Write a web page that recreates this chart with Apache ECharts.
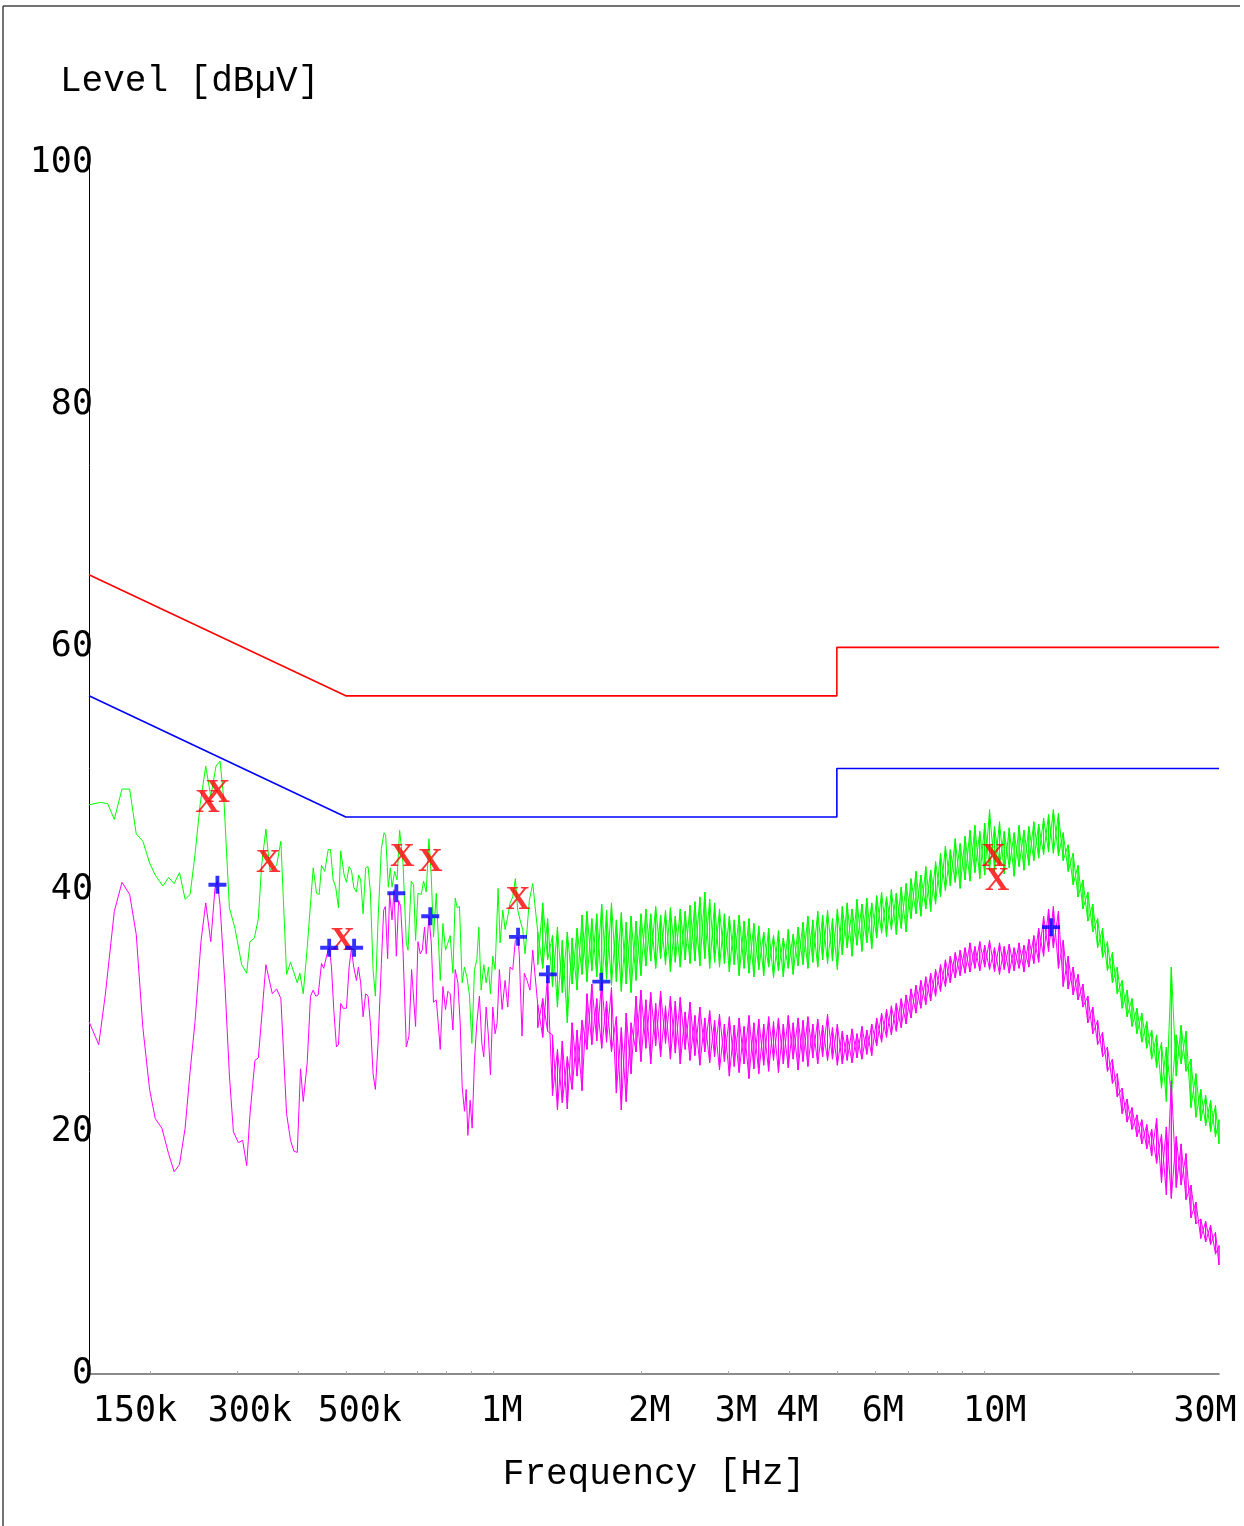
<!DOCTYPE html>
<html>
<head>
<meta charset="utf-8">
<script src="https://cdn.jsdelivr.net/npm/echarts@6/dist/echarts.min.js"></script>
<style>
html,body{margin:0;padding:0;background:#fff;}
#chart{width:1244px;height:1526px;}
</style>
</head>
<body>
<div id="chart"></div>
<script>
// ---- limit lines (frequency in MHz, level in dBµV) ----
const qpLimit = [[0.15,66],[0.5,56],[5,56],[5,60],[30,60]];
const avLimit = [[0.15,56],[0.5,46],[5,46],[5,50],[30,50]];

// ---- low-frequency part of the traces (read vertex by vertex) ----
const greenLF = [[0.150,47.0],[0.1581,47.2],[0.1637,47.1],[0.1689,45.8],[0.1751,48.3],[0.1815,48.3],[0.1872,44.6],[0.1931,44.0],[0.1993,42.2],[0.2046,41.2],[0.2121,40.3],[0.2178,41.0],[0.2236,40.5],[0.2293,41.4],[0.2354,39.2],[0.2410,39.6],[0.2466,42.9],[0.2525,47.0],[0.2593,50.2],[0.2655,47.7],[0.2721,50.2],[0.2773,50.6],[0.2825,47.3],[0.2897,38.5],[0.2974,36.8],[0.3069,33.8],[0.3142,33.1],[0.3190,35.7],[0.3257,36.0],[0.3318,37.6],[0.3370,42.0],[0.3438,45.0],[0.3503,41.6],[0.3615,42.0],[0.3688,44.0],[0.3788,33.0],[0.3859,34.0],[0.3983,32.3],[0.4031,33.1],[0.4096,31.4],[0.4173,35.2],[0.4292,41.8],[0.4359,39.7],
[0.4414,39.6],[0.4462,42.0],[0.4531,41.5],[0.4604,43.3],[0.4654,43.3],[0.4713,40.8],[0.4770,40.2],[0.4831,38.5],[0.4883,43.2],[0.4962,41.2],[0.5016,40.6],[0.5079,41.9],[0.5134,41.6],[0.5190,40.2],[0.5256,39.8],[0.5312,41.2],[0.5362,40.8],[0.5423,38.0],[0.5489,41.8],[0.5551,41.9],[0.5611,39.8],[0.5683,33.4],[0.5744,31.2],[0.5817,37.5],[0.5908,43.4],[0.5983,44.7],[0.6028,44.5],[0.6104,40.2],[0.6162,41.8],[0.6211,40.2],[0.6287,41.5],[0.6358,40.8],[0.6436,44.9],[0.6539,42.2],[0.6641,35.6],[0.6694,35.0],[0.6798,40.7],[0.6871,40.4],[0.6936,35.8],[0.7014,39.7],[0.7124,39.6],[0.7200,40.7],[0.7292,39.8],[0.7385,44.2],[0.7465,41.1],[0.7545,36.1],[0.7642,39.7],[0.7713,39.6],[0.7786,32.5],[0.7885,37.2],[0.7981,35.0],[0.8071,35.6],[0.8158,36.2],[0.8263,33.1],[0.8352,39.3],[0.8430,38.5],[0.8521,38.6],[0.8630,32.3],[0.8723,33.6],[0.8822,32.8],[0.8929,31.3],[0.9031,27.3],[0.9141,33.4],[0.9244,34.2],[0.9331,36.9],[0.9432,31.7],[0.9551,33.8],[0.9656,32.3],[0.9760,33.6],[0.9851,31.4],[0.9963,34.5],[1.0070,33.4],[1.0213,40.1],[1.0309,35.6],[1.0440,38.3],[1.0553,36.7],[1.0667,37.6],[1.0802,38.9],[1.0940,39.4],[1.1073,40.9],[1.1198,38.3],[1.1320,37.5],[1.1464,36.7],[1.1588,34.7],[1.1697,36.7],[1.1823,39.1],[1.2013,40.5]];

const magentaLF = [[0.150,29.1],[0.1570,27.2],[0.1619,31.3],[0.1689,38.2],[0.1751,40.6],[0.1815,39.6],[0.1872,36.3],[0.1931,28.6],[0.1993,23.5],[0.2046,21.1],[0.2111,20.3],[0.2178,18.2],[0.2236,16.7],[0.2293,17.3],[0.2354,20.3],[0.2410,25.0],[0.2466,29.1],[0.2537,35.8],[0.2593,38.9],[0.2655,35.7],[0.2708,40.1],[0.2739,40.7],[0.2773,38.7],[0.2838,32.1],[0.2897,24.7],[0.2952,20.0],[0.3022,19.1],[0.3083,19.3],[0.3142,17.2],[0.3190,21.4],[0.3266,25.9],[0.3318,26.1],[0.3370,29.4],[0.3438,33.8],[0.3543,31.4],[0.3615,31.8],[0.3688,31.0],[0.3788,21.5],[0.3859,19.3],[0.3920,18.4],[0.3983,18.3],[0.4044,25.2],[0.4096,22.5],[0.4173,25.7],[0.4238,31.2],[0.4292,31.7],[0.4344,31.2],[0.4393,31.3],[0.4462,33.9],[0.4510,33.5],[0.4568,34.5],[0.4626,35.3],[0.4676,33.6],[0.4726,30.1],[0.4786,27.0],[0.4831,27.2],[0.4883,30.6],[0.4939,30.2],[0.5016,30.2],[0.5079,33.6],[0.5134,35.1],[0.5190,33.6],[0.5256,32.5],[0.5305,33.6],[0.5362,32.3],[0.5423,29.5],[0.5489,31.4],[0.5551,31.2],[0.5619,28.7],[0.5683,24.8],[0.5744,23.5],[0.5817,27.3],[0.5908,33.9],[0.5972,38.3],[0.6019,38.6],[0.6084,34.3],[0.6142,39.7],[0.6211,37.5],[0.6269,40.0],[0.6338,34.5],[0.6406,39.1],[0.6466,38.6],[0.6539,35.0],[0.6641,27.0],[0.6725,27.9],[0.6808,33.4],[0.6871,33.4],[0.6936,28.7],[0.7014,35.7],[0.7090,34.7],[0.7157,35.0],[0.7234,36.9],[0.7292,34.7],[0.7385,37.8],[0.7465,35.6],[0.7545,30.7],[0.7642,30.9],[0.7713,29.0],[0.7786,26.8],[0.7885,32.0],[0.7981,30.1],[0.8071,31.6],[0.8158,31.4],[0.8263,28.4],[0.8352,33.4],[0.8458,32.3],[0.8549,29.0],[0.8630,23.7],[0.8723,21.7],[0.8793,23.5],[0.8863,19.7],[0.8959,22.6],[0.9043,20.3],[0.9141,25.9],[0.9244,29.0],[0.9357,31.2],[0.9463,27.3],[0.9551,26.2],[0.9656,30.3],[0.9760,27.9],[0.9851,24.7],[0.9963,30.3],[1.0070,28.1],[1.0165,29.0],[1.0275,33.4],[1.0406,30.1],[1.0553,32.5],[1.0686,30.3],[1.0802,33.6],[1.0940,33.4],[1.1073,35.8],[1.1214,36.1],[1.1283,34.5],[1.1426,27.9],[1.1549,33.1],[1.1697,32.5],[1.1862,31.7],[1.2013,35.0]];

// ---- dense high-frequency part: per frequency, top and bottom of the noisy band ----
const hfFreq = [1.230,1.259,1.288,1.318,1.349,1.380,1.413,1.445,1.479,1.514,1.549,1.585,1.622,1.660,1.698,1.738,1.778,1.820,1.862,1.905,1.950,1.995,2.042,2.089,2.138,2.188,2.239,2.291,2.344,2.399,2.455,2.512,2.570,2.630,2.692,2.754,2.818,2.884,2.951,3.020,3.090,3.162,3.236,3.311,3.388,3.467,3.548,3.631,3.715,3.802,3.890,3.981,4.074,4.169,4.266,4.365,4.467,4.571,4.677,4.786,4.898,5.012,5.129,5.248,5.370,5.495,5.623,5.754,5.888,6.026,6.166,6.310,6.457,6.607,6.761,6.918,7.079,7.244,7.413,7.586,7.762,7.943,8.128,8.318,8.511,8.710,8.913,9.120,9.333,9.550,9.772,10.00,10.23,10.47,10.72,10.96,11.22,11.48,11.75,12.02,12.30,12.59,12.88,13.18,13.49,13.80,14.13,14.45,14.79,15.14,15.49,15.85,16.22,16.60,16.98,17.38,17.78,18.20,18.62,19.05,19.50,19.95,20.42,20.89,21.38,21.88,22.39,22.91,23.44,23.99,24.55,25.12,25.70,26.30,26.92,27.54,28.18,28.84,29.51,30.0];

const greenHi = [36.5,38.9,37.6,36.2,36.9,35.8,36.5,36.0,36.8, 37.9,38.2,37.6,38.0, 38.8,38.3,38.9, 37.5,38.1,37.3,37.8,37.4,38.0, 38.4,38.0,38.6,37.9,38.3,38.5,37.8,38.4,38.2,38.7, 39.0,39.4,39.8,39.2,38.9, 38.4,38.0,37.8,37.5,37.9,37.4,37.6,37.2, 37.0,36.5,36.8,36.2,36.6,36.0,36.7,36.3,36.9, 37.3,37.8,37.5,38.2,37.9,38.3,37.6,38.4, 38.6,38.9,38.4,39.2,38.8,39.3,38.9, 39.5,39.8,39.4,40.0,39.7,40.2,40.5, 40.9,41.5,41.2,41.9,41.6,42.3, 43.0,43.6,43.3,44.2,43.8,44.4, 44.9,45.3,44.8,45.5,46.6, 45.2,45.6,44.8,45.1,44.7,45.3,44.9, 45.2,45.6,45.4,45.9,46.2,46.6,46.3, 44.7,43.7,43.0,42.0,40.8,39.8,38.8,37.6,36.8,35.7,34.8,33.6,32.5,31.7,31.0,30.2,29.8,29.1,28.4, 28.0,27.4,27.0,33.6,28.0,28.8,28.3,26.0,24.8,23.5,23.0,22.6,22.2,21.0];
const greenLo = [33.8,33.5,34.2,32.0,30.3,31.5,29.0,32.2,31.7, 33.0,32.4,33.3,32.8, 31.9,32.6,32.1, 32.4,31.6,32.2,31.5,32.5,32.9, 33.7,34.1,33.5,34.3,33.8,33.2,34.0,33.6,34.2,33.9, 34.1,33.7,34.3,33.5,34.0, 33.6,33.9,33.2,33.8,32.9,33.5,33.1,32.8, 33.4,32.9,33.6,32.7,33.3,32.8,33.5,33.0,33.7, 33.8,33.5,34.0,33.6,34.2,33.9,34.1,33.4, 34.6,35.2,34.5,35.4,34.9,35.6,35.1, 36.0,36.4,36.1,36.7,36.3,36.8,36.5, 37.6,38.0,37.8,38.4,38.2,38.8, 39.4,39.9,40.3,40.6,40.1,40.8, 40.7,41.4,40.9,41.2,41.6, 41.5,42.0,41.3,41.8,41.1,41.9,41.6, 42.0,42.4,42.6,42.9,43.1,43.0,42.8, 42.4,41.5,40.4,39.4,38.4,37.4,36.5,35.2,34.4,33.3,32.3,31.4,30.2,29.5,28.7,28.1,27.4,26.9,26.0, 25.3,23.6,22.5,22.9,24.6,25.6,25.0,22.0,21.2,20.9,20.5,20.0,19.6,19.0];
const magentaHi = [30.5,31.0,32.9,28.0,26.8,27.5,26.2,29.0,28.4, 29.2,31.4,32.2,31.0, 32.4,30.8,31.9, 29.5,28.6,29.8,29.0,31.2,31.7, 30.9,31.5,30.6,31.6,30.4,31.2,30.8,31.1,29.9,30.7, 29.6,30.3,29.4,30.0,29.2, 29.7,28.9,29.5,28.8,29.4,28.7,29.6,29.0, 29.3,28.9,29.5,29.1,29.4,28.9,29.6,29.0,29.4, 29.2,29.5,28.9,29.3,28.8,29.7,28.6,28.9, 28.3,28.0,28.5,28.1,28.7,28.4,28.9, 29.4,29.8,30.1,30.4,30.6,31.0,31.3, 31.8,32.1,32.5,32.8,33.1,33.4, 33.8,34.2,34.5,34.8,35.0,35.2, 35.6,35.3,35.7,35.4,35.8, 35.2,35.6,35.3,35.5,35.2,35.6,35.4, 35.9,36.2,36.8,37.8,38.4,38.6,38.2, 35.8,34.5,33.6,33.0,32.2,31.2,30.3,29.2,28.2,27.0,26.0,24.8,23.6,22.7,22.0,21.4,21.0,20.6,20.2, 21.1,19.8,20.4,24.2,19.6,19.0,18.2,15.6,14.2,12.8,12.6,12.3,11.7,10.6];
const magentaLo = [28.6,27.8,28.3,23.0,21.8,22.4,21.9,23.5,24.6, 23.4,26.8,27.2,27.5, 26.9,27.4,26.6, 23.2,21.8,22.5,24.8,26.6,25.8, 26.9,25.6,27.1,26.2,27.3,26.0,26.5,25.6,26.8,25.9, 26.3,25.5,26.6,25.7,26.2, 25.1,25.8,24.6,25.4,24.9,25.6,24.4,25.2, 24.8,25.5,25.0,25.9,24.9,25.6,25.3,26.0,25.1, 25.8,25.4,26.1,25.6,26.2,25.9,26.0,25.5, 25.6,25.9,25.7,26.1,26.0,26.4,26.3, 27.1,27.4,27.8,28.0,28.3,28.6,28.9, 29.4,29.8,30.2,30.5,30.8,31.2, 31.6,32.0,32.3,32.7,32.9,33.1, 33.2,33.5,33.3,33.6,33.4, 33.2,33.0,33.4,33.1,33.3,33.5,33.2, 33.6,33.9,34.0,34.5,34.9,35.2,33.5, 32.0,31.8,31.3,30.9,30.3,29.0,28.1,27.2,26.2,25.0,24.0,22.9,21.5,20.8,20.2,19.6,19.0,18.6,18.0, 17.4,15.8,14.8,14.5,15.4,15.6,14.4,12.9,12.4,11.2,10.9,10.7,9.9,9.0];

// ---- final measurement markers ----
const qpMarkFreq  = [0.2614,0.2743,0.3477,0.4922,0.6518,0.7430,1.1214,10.42,10.60];
const qpMarkLevel = [47.1,48.0,42.2,35.7,42.7,42.3,39.1,42.7,40.7];
const avMarkFreq  = [0.2739,0.4626,0.5199,0.6338,0.7430,1.1214,1.290,1.657,13.65];
const avMarkLevel = [40.4,35.2,35.2,39.7,37.8,36.1,33.0,32.4,36.9];

// ---- axis ticks / labels ----
const xLabelFreqs = [0.15,0.3,0.5,1,2,3,4,6,10,30];
const xLabelTexts = ['150k','300k','500k','1M','2M','3M','4M','6M','10M','30M'];
const xMinorTicks = [0.2,0.3,0.4,0.5,0.6,0.7,0.8,0.9,1,2,3,4,5,6,7,8,9,10,20];

// build series data: the noisy band is drawn top->bottom at each frequency,
// and a second pass bottom->top gives the crossing spikes
function bandDown(hi, lo){
  const out = [];
  for (let i = 0; i < hfFreq.length; i++){ out.push([hfFreq[i], hi[i]]); out.push([hfFreq[i], lo[i]]); }
  return out;
}
function bandUp(hi, lo){
  const out = [];
  for (let i = 0; i < hfFreq.length; i++){ out.push([hfFreq[i], lo[i]]); out.push([hfFreq[i], hi[i]]); }
  return out;
}
const greenData = greenLF.concat(bandDown(greenHi, greenLo));
const greenData2 = bandUp(greenHi, greenLo);
const magentaData = magentaLF.concat(bandDown(magentaHi, magentaLo));
const magentaData2 = bandUp(magentaHi, magentaLo);
const qpMarks = qpMarkFreq.map((f,i)=>[f, qpMarkLevel[i]]);
const avMarks = avMarkFreq.map((f,i)=>[f, avMarkLevel[i]]);

// label horizontal shifts (px) to mimic the original label placement
const labelShift = [46,13,14,8,8,8,8,7,10,-14];
const labelFont = 'DejaVu Sans Mono';
const rich = {};
labelShift.forEach((s,i)=>{
  rich['l'+i] = {
    fontFamily: labelFont, fontSize: 35, color:'#000',
    padding: s >= 0 ? [0,0,0,2*s] : [0,-2*s,0,0]
  };
});

const chart = echarts.init(document.getElementById('chart'), null, {renderer:'canvas'});
chart.setOption({
  animation: false,
  backgroundColor: '#fff',
  title: {
    text: 'Level [dBµV]', left: 55, top: 58,
    textStyle: {fontFamily:'Liberation Mono', fontSize:36, fontWeight:'normal', color:'#000'}
  },
  grid: {left: 89, right: 25, top: 163, bottom: 152, containLabel: false, outerBoundsMode: 'none'},
  xAxis: {
    type: 'log', logBase: 10, min: 0.15, max: 30,
    name: 'Frequency [Hz]', nameLocation: 'middle', nameGap: 82,
    nameTextStyle: {fontFamily:'Liberation Mono', fontSize:36, color:'#000'},
    axisLine: {show:true, onZero:false, lineStyle:{color:'#666', width:1.5}},
    axisTick: {show:true, inside:true, length:3, customValues: xMinorTicks, lineStyle:{color:'#aaa', width:1}},
    minorTick: {show:false},
    splitLine: {show:false},
    axisLabel: {
      show: true, margin: 20, customValues: xLabelFreqs,
      fontFamily: labelFont, fontSize: 35, color:'#000',
      hideOverlap: false,
      formatter: function(v){
        let best = 0, bd = Infinity;
        xLabelFreqs.forEach((f,i)=>{ const d = Math.abs(Math.log(f) - Math.log(v)); if (d < bd){bd = d; best = i;} });
        return '{l' + best + '|' + xLabelTexts[best] + '}';
      },
      rich: rich
    }
  },
  yAxis: {
    type: 'value', min: 0, max: 100, interval: 20,
    axisLine: {show:true, onZero:false, lineStyle:{color:'#000', width:1}},
    axisTick: {show:false},
    splitLine: {show:false},
    axisLabel: {show:true, margin: -4, fontFamily: labelFont, fontSize: 35, color:'#000'}
  },
  graphic: [
    {type:'line', shape:{x1:3, y1:6, x2:1240, y2:6}, style:{stroke:'#444', lineWidth:1.5}, silent:true},
    {type:'line', shape:{x1:3, y1:6, x2:3, y2:1526}, style:{stroke:'#444', lineWidth:1.5}, silent:true}
  ],
  series: [
    {name:'QP limit', type:'line', data: qpLimit, symbol:'none', lineStyle:{color:'#ff0000', width:1.6}, z:2},
    {name:'AV limit', type:'line', data: avLimit, symbol:'none', lineStyle:{color:'#0000ff', width:1.6}, z:2},
    {name:'Peak', type:'line', data: greenData, symbol:'none', lineStyle:{color:'#00ff00', width:1}, z:3},
    {name:'Peak band', type:'line', data: greenData2, symbol:'none', lineStyle:{color:'#00ff00', width:1}, z:3},
    {name:'Average', type:'line', data: magentaData, symbol:'none', lineStyle:{color:'#ff00ff', width:1}, z:3},
    {name:'Average band', type:'line', data: magentaData2, symbol:'none', lineStyle:{color:'#ff00ff', width:1}, z:3},
    {name:'QP final', type:'scatter', data: qpMarks, symbol:'rect', symbolSize:2,
      itemStyle:{color:'rgba(0,0,0,0)'}, z:5,
      label:{show:true, position:'inside', formatter:'X', color:'#ff0000',
        fontFamily:'Liberation Serif', fontSize:34, fontWeight:'bold'}},
    {name:'AV final', type:'scatter', data: avMarks,
      symbol:'path://M6.3,0H9.7V6.3H16V9.7H9.7V16H6.3V9.7H0V6.3H6.3Z', symbolSize:18,
      itemStyle:{color:'#0000ff'}, z:6}
  ]
});
</script>
</body>
</html>
